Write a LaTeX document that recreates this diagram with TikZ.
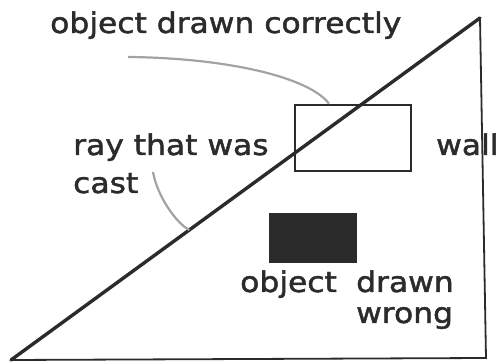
\documentclass[tikz,border=0pt]{standalone}
\usepackage{fontspec}
\setmainfont[FakeStretch=1.1,FakeBold=1.6]{DejaVu Sans}
\usetikzlibrary{calc}
\definecolor{ink}{HTML}{2B2B2B}
\definecolor{pencil}{HTML}{A3A3A3}
\tikzset{
  raystroke/.style={draw=ink,line width=3.4pt,line cap=round},
  wallstroke/.style={draw=ink,line width=1.8pt,line join=miter},
  objbox/.style={rectangle,draw=ink,fill=white,line width=2.6pt,
    minimum width=116pt,minimum height=66pt,inner sep=0pt},
  objfill/.style={rectangle,fill=ink,minimum width=88pt,
    minimum height=50pt,inner sep=0pt},
  lbl/.style={inner sep=0pt,text=ink,align=left,anchor=base west,
    font=\fontsize{28.5}{38}\selectfont},
  leader/.style={draw=pencil,line width=2.2pt},
}

\begin{document}
\begin{tikzpicture}[x=1pt,y=-1pt]
  \useasboundingbox (0,0) rectangle (504,363);
  % the scene
  \coordinate (raystart) at (11,360);
  \coordinate (apex) at (480,18);
  \coordinate (foot) at (486,358);
  \draw[wallstroke] (apex) -- (foot) -- (raystart);
  \node[objbox] (good) at (353,138) {};
  \node[objfill] (bad) at (313,238) {};
  \draw[raystroke] (raystart) -- (apex);
  % labels (base = last line)
  \node[lbl] (tgood) at (50,33) {object drawn correctly};
  \node[lbl] (tray) at (73,193) {ray that was\\cast};
  \node[lbl] (twall) at (436,155) {wall};
  \node[lbl] (tobj) at (240,292) {object};
  \node[lbl,font=\fontsize{28.5}{31}\selectfont] (tbad) at (356,323) {drawn\\wrong};
  % pencil leaders
  \coordinate (tailA) at (128,57);
  \coordinate (tailB) at (153,172);
  \coordinate (hit) at ($(raystart)!0.38!(apex)$);
  \draw[leader] (tailA) .. controls (230,58) and (310,78) .. (good.125);
  \draw[leader] (tailB) .. controls (157,195) and (175,222) .. (hit);
\end{tikzpicture}
\end{document}
